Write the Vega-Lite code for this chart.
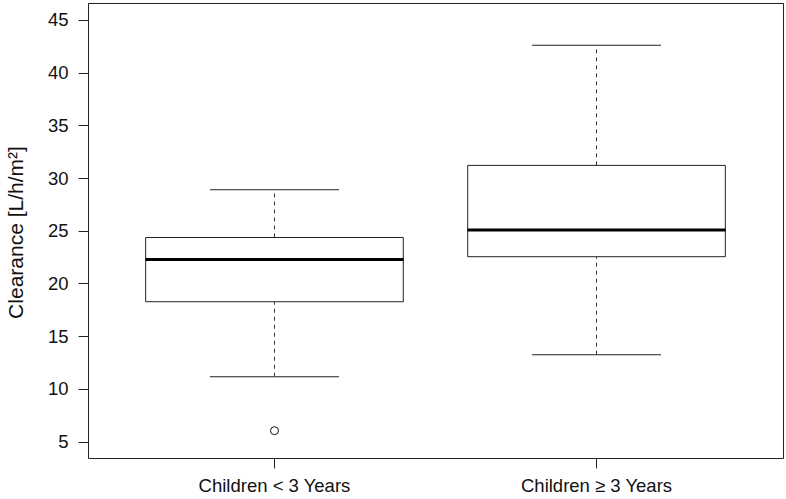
{
  "$schema": "https://vega.github.io/schema/vega-lite/v6.json",
  "width": 695,
  "height": 455,
  "autosize": {"type": "none"},
  "padding": {"left": 88, "top": 3, "right": 3, "bottom": 41},
  "background": "white",
  "config": {
    "font": "Liberation Sans",
    "view": {"stroke": "#222222", "strokeWidth": 1},
    "axis": {"grid": false, "domain": false, "tickColor": "#222222", "tickSize": 10, "labelColor": "#111111", "titleColor": "#111111", "titleFontWeight": "normal"}
  },
  "datasets": {
    "boxes": [
      {"group": "Children < 3 Years", "lower": 11.16, "q1": 18.27, "median": 22.28, "q3": 24.36, "upper": 28.9},
      {"group": "Children ≥ 3 Years", "lower": 13.25, "q1": 22.54, "median": 25.07, "q3": 31.2, "upper": 42.6}
    ],
    "outliers": [
      {"group": "Children < 3 Years", "value": 6.04}
    ]
  },
  "data": {"name": "boxes"},
  "encoding": {
    "x": {
      "field": "group",
      "type": "nominal",
      "sort": null,
      "scale": {"paddingInner": 0.2, "paddingOuter": 0.179},
      "axis": {"title": null, "labelAngle": 0, "labelFontSize": 18.5, "labelPadding": 8}
    }
  },
  "layer": [
    {
      "mark": {"type": "rule", "strokeDash": [4, 4], "color": "#333333", "strokeWidth": 1},
      "encoding": {
        "y": {"field": "lower", "type": "quantitative", "scale": {"domain": [3.45, 46.6], "nice": false, "zero": false},
          "axis": {"title": "Clearance [L/h/m²]", "values": [5, 10, 15, 20, 25, 30, 35, 40, 45], "labelFontSize": 18.5, "labelPadding": 10, "titleFontSize": 21, "titleBaseline": "alphabetic", "titleX": -66, "titleY": 229, "titleAngle": -90, "titleAlign": "center"}},
        "y2": {"field": "q1"}
      }
    },
    {
      "mark": {"type": "rule", "strokeDash": [4, 4], "color": "#333333", "strokeWidth": 1},
      "encoding": {
        "y": {"field": "q3", "type": "quantitative"},
        "y2": {"field": "upper"}
      }
    },
    {
      "mark": {"type": "tick", "color": "#222222", "size": 129, "thickness": 1, "opacity": 1},
      "encoding": {"y": {"field": "lower", "type": "quantitative"}}
    },
    {
      "mark": {"type": "tick", "color": "#222222", "size": 129, "thickness": 1, "opacity": 1},
      "encoding": {"y": {"field": "upper", "type": "quantitative"}}
    },
    {
      "mark": {"type": "bar", "fill": "white", "stroke": "#222222", "strokeWidth": 1},
      "encoding": {
        "y": {"field": "q1", "type": "quantitative"},
        "y2": {"field": "q3"}
      }
    },
    {
      "mark": {"type": "tick", "color": "black", "size": 258, "thickness": 3, "opacity": 1},
      "encoding": {"y": {"field": "median", "type": "quantitative"}}
    },
    {
      "data": {"name": "outliers"},
      "mark": {"type": "point", "shape": "circle", "size": 64, "filled": false, "stroke": "#111111", "strokeWidth": 1, "opacity": 1},
      "encoding": {"y": {"field": "value", "type": "quantitative"}}
    }
  ]
}
